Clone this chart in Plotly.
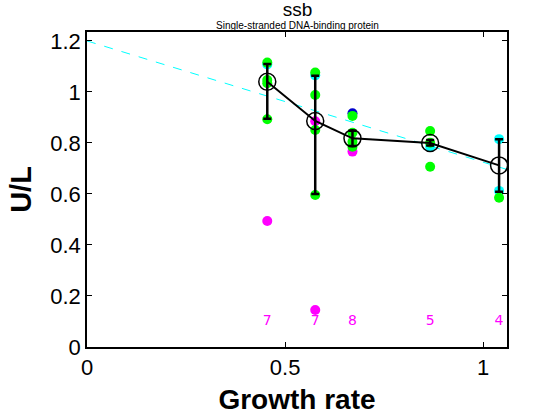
import plotly.graph_objects as go

# group growth rates and summary values
growth = [0.455, 0.576, 0.670, 0.866, 1.040]
mean_ul = [1.040, 0.886, 0.818, 0.800, 0.712]
err_up = [0.070, 0.177, 0.030, 0.012, 0.103]
err_down = [0.145, 0.286, 0.030, 0.010, 0.103]
counts = ["7", "7", "8", "5", "4"]

# individual measurements, by colour
green_x = [0.455, 0.455, 0.455, 0.455, 0.576, 0.576, 0.576, 0.576,
           0.670, 0.670, 0.670, 0.670, 0.866, 0.866, 0.866, 1.040]
green_y = [1.115, 1.047, 1.034, 0.893, 1.076, 0.988, 0.851, 0.596,
           0.906, 0.840, 0.805, 0.785, 0.847, 0.801, 0.707, 0.585]
cyan_x = [0.455, 0.576, 0.866, 1.040, 1.040]
cyan_y = [1.108, 1.065, 0.785, 0.815, 0.612]
blue_x = [0.670]
blue_y = [0.916]
magenta_x = [0.455, 0.576, 0.576, 0.670]
magenta_y = [0.494, 0.885, 0.145, 0.766]

# fitted trend
fit_x = [0.0, 1.06]
fit_y = [1.20, 0.696]

fig = go.Figure()

fig.add_trace(go.Scatter(x=fit_x, y=fit_y, mode="lines",
                         line=dict(color="#00ffff", width=1, dash="dash")))

for xs, ys, col in [(cyan_x, cyan_y, "#00ffff"), (blue_x, blue_y, "#0000cc"),
                    (magenta_x, magenta_y, "#ff00ff"), (green_x, green_y, "#00ff00")]:
    fig.add_trace(go.Scatter(x=xs, y=ys, mode="markers",
                             marker=dict(color=col, size=10, line=dict(width=0))))

fig.add_trace(go.Scatter(
    x=growth, y=mean_ul, mode="lines+markers",
    line=dict(color="black", width=2),
    marker=dict(symbol="circle-open", size=17, color="black", line=dict(width=1.5)),
    error_y=dict(type="data", symmetric=False, array=err_up, arrayminus=err_down,
                 color="black", thickness=2.5, width=4),
))

fig.add_trace(go.Scatter(x=growth, y=[0.1] * len(growth), mode="text", text=counts,
                         textfont=dict(color="#ff00ff", size=14, family="DejaVu Sans")))

# title and subtitle as one two-line text
fig.add_annotation(
    text="<span style='font-size:19px'>ssb</span><br>Single-stranded DNA-binding protein",
    x=0.5, y=1.0, xref="paper", yref="paper", yanchor="bottom", yshift=0,
    showarrow=False, borderpad=0,
    font=dict(size=10, family="Liberation Sans", color="black"))

axis_common = dict(showline=True, linecolor="black", linewidth=1.5, mirror="ticks",
                   ticks="inside", ticklen=5, tickcolor="black", showgrid=False,
                   zeroline=False, automargin=False,
                   tickfont=dict(size=22, family="Liberation Sans", color="black"))

fig.update_layout(
    width=560, height=420,
    margin=dict(l=87, r=53, t=32, b=73),
    paper_bgcolor="white", plot_bgcolor="white",
    showlegend=False,
    xaxis=dict(range=[0, 1.06], tickvals=[0, 0.5, 1], ticktext=["0", "0.5", "1"],
               title=dict(text="<b>Growth rate</b>", standoff=10,
                          font=dict(size=28, family="Liberation Sans", color="black")),
               **axis_common),
    yaxis=dict(range=[0, 1.235], tickvals=[0, 0.2, 0.4, 0.6, 0.8, 1, 1.2],
               ticktext=["0", "0.2", "0.4", "0.6", "0.8", "1", "1.2"],
               title=dict(text="<b>U/L</b>", standoff=10,
                          font=dict(size=29, family="Liberation Sans", color="black")),
               **axis_common),
)

# drop the page's default body margin so the figure fills the window
fig.write_html("out.html", config={"displayModeBar": False},
               post_script="document.body.style.margin='0';document.body.style.overflow='hidden';")
